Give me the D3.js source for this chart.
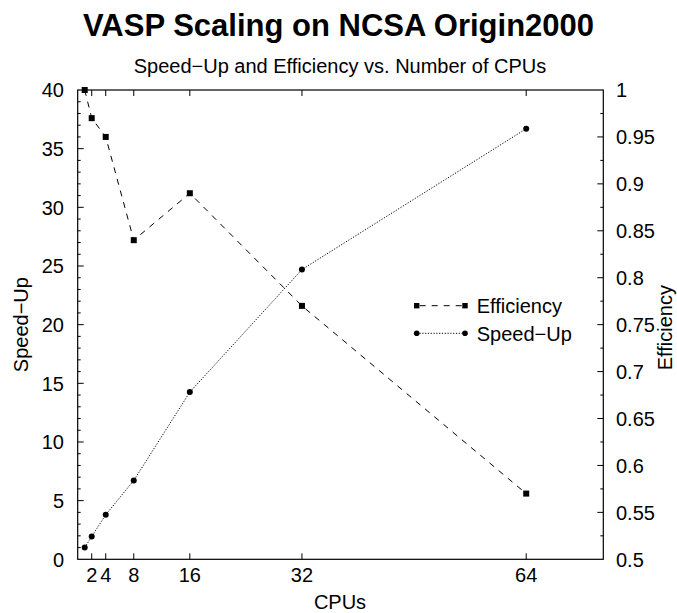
<!DOCTYPE html>
<html>
<head>
<meta charset="utf-8">
<script src="https://cdn.jsdelivr.net/npm/d3@7"></script>
<style>
  html, body { margin: 0; padding: 0; background: #fff; }
  svg { display: block; font-family: "Liberation Sans", Arial, Helvetica, sans-serif; }
</style>
</head>
<body>
<svg id="chart" width="677" height="613"></svg>
<script>
// ---- data ----
const cpus = [1, 2, 4, 8, 16, 32, 64];
const speedUp = [1, 1.94, 3.8, 6.72, 14.25, 24.7, 36.7];
const efficiency = [1, 0.97, 0.95, 0.84, 0.89, 0.77, 0.57];
const xTicks = [2, 4, 8, 16, 32, 64];
const yLeftTicks = [0, 5, 10, 15, 20, 25, 30, 35, 40];
const yRightTicks = [0.5, 0.55, 0.6, 0.65, 0.7, 0.75, 0.8, 0.85, 0.9, 0.95, 1];
const title = "VASP Scaling on NCSA Origin2000";
const subtitle = "Speed\u2212Up and Efficiency vs. Number of CPUs";
const seriesNames = ["Efficiency", "Speed\u2212Up"];

(function () {
// ---- layout ----
const pL = 77.7, pR = 603.3, pT = 90, pB = 559.3;
const svg = d3.select("#chart");

const x = d3.scaleLinear().domain([0, 75]).range([pL, pR]);
const yL = d3.scaleLinear().domain([0, 40]).range([pB, pT]);
const yR = d3.scaleLinear().domain([0.5, 1]).range([pB, pT]);

// titles
svg.append("text").attr("x", 338.5).attr("y", 36).attr("text-anchor", "middle")
  .attr("font-size", 31).attr("font-weight", "bold").text(title);
svg.append("text").attr("x", 340).attr("y", 73).attr("text-anchor", "middle")
  .attr("font-size", 20).text(subtitle);

// frame
svg.append("rect").attr("x", pL).attr("y", pT)
  .attr("width", pR - pL).attr("height", pB - pT)
  .attr("fill", "none").attr("stroke", "#000").attr("stroke-width", 1.2);

const tickG = svg.append("g").attr("stroke", "#000").attr("stroke-width", 1);
const major = 6, minor = 3;

// x ticks bottom & top (inward)
xTicks.forEach(t => {
  tickG.append("line").attr("x1", x(t)).attr("x2", x(t)).attr("y1", pB).attr("y2", pB - major);
  tickG.append("line").attr("x1", x(t)).attr("x2", x(t)).attr("y1", pT).attr("y2", pT + major);
});
// left ticks
d3.range(1, 40, 1).forEach(v => {
  const len = v % 5 === 0 ? major : minor;
  tickG.append("line").attr("x1", pL).attr("x2", pL + len).attr("y1", yL(v)).attr("y2", yL(v));
});
// right ticks
d3.range(1, 20, 1).forEach(i => {
  const v = 0.5 + i * 0.025;
  const len = i % 2 === 0 ? major : minor;
  tickG.append("line").attr("x1", pR).attr("x2", pR - len).attr("y1", yR(v)).attr("y2", yR(v));
});

// tick labels
const fs = 20;
xTicks.forEach(t => {
  svg.append("text").attr("x", x(t)).attr("y", 582).attr("text-anchor", "middle")
    .attr("font-size", fs).text(t);
});
yLeftTicks.forEach(t => {
  svg.append("text").attr("x", 64).attr("y", yL(t)).attr("dy", "0.36em").attr("text-anchor", "end")
    .attr("font-size", fs).text(t);
});
yRightTicks.forEach(t => {
  svg.append("text").attr("x", 616).attr("y", yR(t)).attr("dy", "0.36em").attr("text-anchor", "start")
    .attr("font-size", fs).text(d3.format("~g")(t));
});

// axis titles
svg.append("text").attr("x", 340).attr("y", 609).attr("text-anchor", "middle")
  .attr("font-size", fs).text("CPUs");
svg.append("text").attr("transform", "translate(28," + ((pT + pB) / 2) + ") rotate(-90)")
  .attr("text-anchor", "middle").attr("font-size", fs).text(seriesNames[1]);
svg.append("text").attr("transform", "translate(672," + ((pT + pB) / 2 + 3) + ") rotate(-90)")
  .attr("text-anchor", "middle").attr("font-size", fs).text("Efficiency");

// series
const effData = cpus.map((c, i) => [c, efficiency[i]]);
const spdData = cpus.map((c, i) => [c, speedUp[i]]);

svg.append("path").datum(effData)
  .attr("d", d3.line().x(d => x(d[0])).y(d => yR(d[1])))
  .attr("fill", "none").attr("stroke", "#000").attr("stroke-width", 1)
  .attr("stroke-dasharray", "6,6");
svg.append("path").datum(spdData)
  .attr("d", d3.line().x(d => x(d[0])).y(d => yL(d[1])))
  .attr("fill", "none").attr("stroke", "#000").attr("stroke-width", 1)
  .attr("stroke-dasharray", "1.2,1.6");

const sq = 6;
svg.selectAll("rect.eff").data(effData).enter().append("rect")
  .attr("class", "eff")
  .attr("x", d => x(d[0]) - sq / 2).attr("y", d => yR(d[1]) - sq / 2)
  .attr("width", sq).attr("height", sq).attr("fill", "#000");
svg.selectAll("circle.spd").data(spdData).enter().append("circle")
  .attr("class", "spd")
  .attr("cx", d => x(d[0])).attr("cy", d => yL(d[1])).attr("r", 3).attr("fill", "#000");

// legend
const lx1 = 416.7, lx2 = 465, ly1 = 305.7, ly2 = 333.3, ltx = 476.7;
svg.append("line").attr("x1", lx1).attr("x2", lx2).attr("y1", ly1).attr("y2", ly1)
  .attr("stroke", "#000").attr("stroke-dasharray", "6,6").attr("stroke-dashoffset", -3);
[lx1, lx2].forEach(px => svg.append("rect").attr("x", px - 2.7).attr("y", ly1 - 2.7)
  .attr("width", 5.4).attr("height", 5.4).attr("fill", "#000"));
svg.append("text").attr("x", ltx).attr("y", ly1).attr("dy", "0.36em").attr("font-size", fs).text(seriesNames[0]);

svg.append("line").attr("x1", lx1).attr("x2", lx2).attr("y1", ly2).attr("y2", ly2)
  .attr("stroke", "#000").attr("stroke-dasharray", "1.2,1.6");
[lx1, lx2].forEach(px => svg.append("circle").attr("cx", px).attr("cy", ly2).attr("r", 2.8).attr("fill", "#000"));
svg.append("text").attr("x", ltx).attr("y", ly2).attr("dy", "0.36em").attr("font-size", fs).text(seriesNames[1]);
})();
</script>
</body>
</html>
